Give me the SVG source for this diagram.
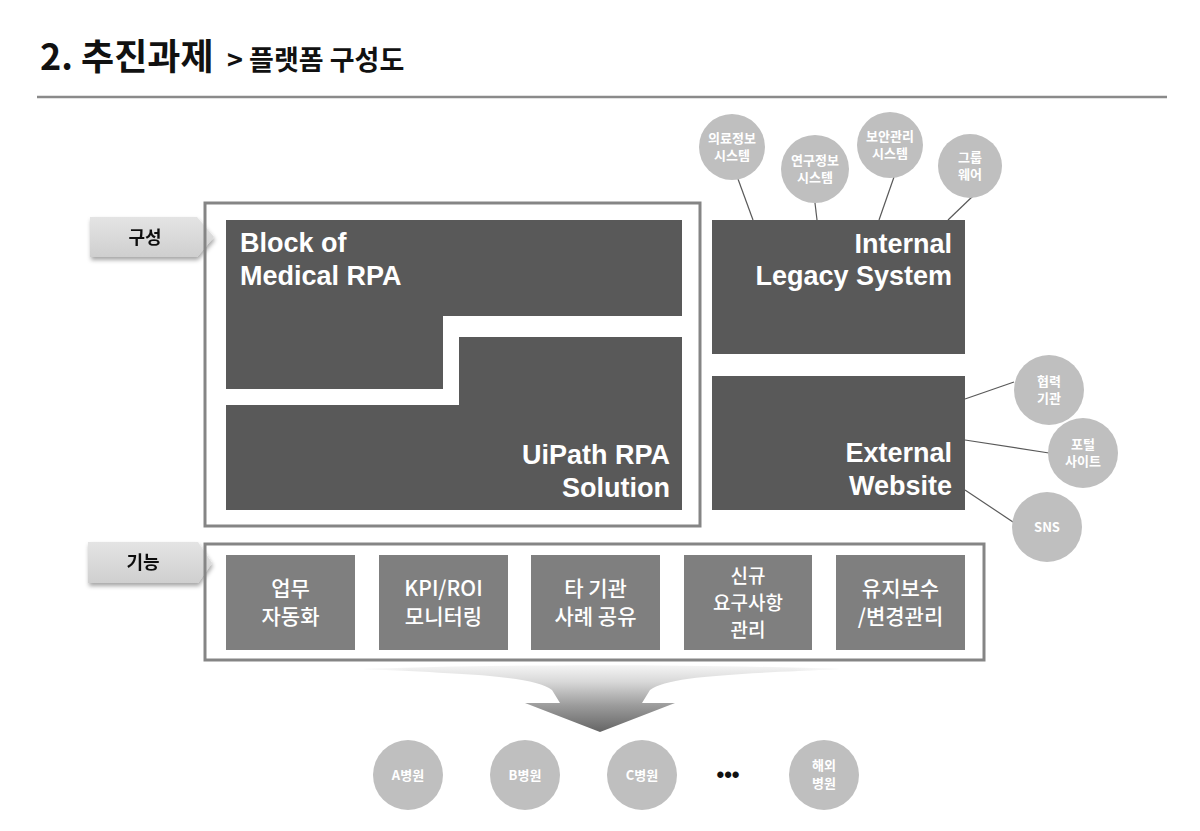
<svg xmlns="http://www.w3.org/2000/svg" width="1200" height="831" viewBox="0 0 1200 831">
<defs>
<linearGradient id="tagGrad" x1="0" y1="0" x2="0" y2="1">
<stop offset="0" stop-color="#e4e4e4"/>
<stop offset="1" stop-color="#cfcfcf"/>
</linearGradient>
<linearGradient id="funnelGrad" x1="0" y1="0" x2="0" y2="1">
<stop offset="0" stop-color="#f5f5f5"/>
<stop offset="0.25" stop-color="#d8d8d8"/>
<stop offset="0.6" stop-color="#9c9c9c"/>
<stop offset="1" stop-color="#656565"/>
</linearGradient>
<linearGradient id="funnelFade" x1="0" y1="0" x2="1" y2="0">
<stop offset="0" stop-color="#fff" stop-opacity="0.9"/>
<stop offset="0.1" stop-color="#fff" stop-opacity="0"/>
<stop offset="0.9" stop-color="#fff" stop-opacity="0"/>
<stop offset="1" stop-color="#fff" stop-opacity="0.9"/>
</linearGradient>
<filter id="shadow" x="-10%" y="-20%" width="130%" height="160%">
<feDropShadow dx="1" dy="3" stdDeviation="2" flood-color="#000" flood-opacity="0.35"/>
</filter>
</defs>
<style>
.title{font-family:"Noto Sans CJK KR","Noto Sans",sans-serif;font-weight:bold;fill:#111}
.frame{fill:none;stroke:#858585;stroke-width:3}
.dark{fill:#595959}
.func{fill:#7f7f7f}
.bub{fill:#bfbfbf}
.big{font-family:"Liberation Sans","Noto Sans CJK KR",sans-serif;font-weight:bold;font-size:27px;fill:#fff}
.ft{font-family:"Noto Sans CJK KR",sans-serif;font-weight:500;font-size:21px;fill:#fff;text-anchor:middle}
.ft3{font-family:"Noto Sans CJK KR",sans-serif;font-weight:500;font-size:19px;fill:#fff;text-anchor:middle}
.bt{font-family:"Noto Sans CJK KR",sans-serif;font-weight:bold;font-size:13px;fill:#fff;text-anchor:middle}
.ht{font-family:"Noto Sans CJK KR",sans-serif;font-weight:bold;font-size:13px;fill:#fff;text-anchor:middle}
.tag{fill:url(#tagGrad)}
.tt{font-family:"Noto Sans CJK KR",sans-serif;font-weight:bold;font-size:18px;fill:#111;text-anchor:middle}
.conn{stroke:#595959;stroke-width:1.2;fill:none}
</style>

<g id="title">
<text class="title" x="40" y="70" font-size="36">2. 추진과제</text>
<text class="title" x="227" y="70" font-size="27">&gt; 플랫폼 구성도</text>
<line x1="37" y1="97" x2="1167" y2="97" stroke="#8a8a8a" stroke-width="2.5"/>
</g>

<g id="connectors">
<line class="conn" x1="738" y1="179" x2="753" y2="220"/>
<line class="conn" x1="815" y1="203" x2="817" y2="220"/>
<line class="conn" x1="894" y1="177" x2="879" y2="220"/>
<line class="conn" x1="974" y1="195" x2="948" y2="220"/>
<line class="conn" x1="965" y1="399" x2="1014" y2="382"/>
<line class="conn" x1="965" y1="440" x2="1049" y2="453"/>
<line class="conn" x1="965" y1="490" x2="1013" y2="522"/>
</g>

<g id="tag-composition" filter="url(#shadow)">
<polygon class="tag" points="90,217 197,217 214,237 197,257 90,257"/>
<text class="tt" x="145" y="244">구성</text>
</g>
<g id="tag-function" filter="url(#shadow)">
<polygon class="tag" points="88,542 198,542 212,563 198,583 88,583"/>
<text class="tt" x="143" y="569">기능</text>
</g>

<g id="composition-frame">
<rect class="frame" x="205" y="203" width="495" height="323"/>
</g>

<g id="block-medical-rpa">
<path class="dark" d="M226,220 H682 V316 H443 V389 H226 Z"/>
<text class="big" x="240" y="252">Block of</text>
<text class="big" x="240" y="285">Medical RPA</text>
</g>

<g id="uipath-rpa">
<path class="dark" d="M459,337 H682 V510 H226 V405 H459 Z"/>
<text class="big" x="670" y="464" text-anchor="end">UiPath RPA</text>
<text class="big" x="670" y="497" text-anchor="end">Solution</text>
</g>

<g id="internal-legacy">
<rect class="dark" x="712" y="220" width="253" height="134"/>
<text class="big" x="952" y="253" text-anchor="end">Internal</text>
<text class="big" x="952" y="285" text-anchor="end">Legacy System</text>
</g>

<g id="external-website">
<rect class="dark" x="712" y="376" width="253" height="134"/>
<text class="big" x="952" y="462" text-anchor="end">External</text>
<text class="big" x="952" y="495" text-anchor="end">Website</text>
</g>

<g id="bubble-medical-info">
<circle class="bub" cx="732" cy="147" r="33"/>
<text class="bt" x="732" y="143">의료정보</text>
<text class="bt" x="732" y="160">시스템</text>
</g>
<g id="bubble-research-info">
<circle class="bub" cx="815" cy="169" r="34"/>
<text class="bt" x="815" y="165">연구정보</text>
<text class="bt" x="815" y="182">시스템</text>
</g>
<g id="bubble-security">
<circle class="bub" cx="890" cy="145" r="33"/>
<text class="bt" x="890" y="141">보안관리</text>
<text class="bt" x="890" y="158">시스템</text>
</g>
<g id="bubble-groupware">
<circle class="bub" cx="970" cy="166" r="32"/>
<text class="bt" x="970" y="162">그룹</text>
<text class="bt" x="970" y="179">웨어</text>
</g>
<g id="bubble-partner">
<circle class="bub" cx="1049" cy="390" r="35"/>
<text class="bt" x="1049" y="386">협력</text>
<text class="bt" x="1049" y="403">기관</text>
</g>
<g id="bubble-portal">
<circle class="bub" cx="1083" cy="453" r="35"/>
<text class="bt" x="1083" y="449">포털</text>
<text class="bt" x="1083" y="466">사이트</text>
</g>
<g id="bubble-sns">
<circle class="bub" cx="1047" cy="527" r="35"/>
<text class="bt" x="1047" y="532">SNS</text>
</g>

<g id="function-frame">
<rect class="frame" x="205" y="544" width="779" height="116"/>
</g>

<g id="func-automation">
<rect class="func" x="226" y="555" width="129" height="95"/>
<text class="ft" x="290.5" y="596">업무</text>
<text class="ft" x="290.5" y="624">자동화</text>
</g>
<g id="func-kpi">
<rect class="func" x="379" y="555" width="129" height="95"/>
<text class="ft" x="443.5" y="596">KPI/ROI</text>
<text class="ft" x="443.5" y="624">모니터링</text>
</g>
<g id="func-share">
<rect class="func" x="531" y="555" width="129" height="95"/>
<text class="ft" x="595.5" y="596">타 기관</text>
<text class="ft" x="595.5" y="624">사례 공유</text>
</g>
<g id="func-requirements">
<rect class="func" x="684" y="555" width="128" height="95"/>
<text class="ft3" x="748" y="583">신규</text>
<text class="ft3" x="748" y="610">요구사항</text>
<text class="ft3" x="748" y="637">관리</text>
</g>
<g id="func-maintenance">
<rect class="func" x="836" y="555" width="129" height="95"/>
<text class="ft" x="900.5" y="596">유지보수</text>
<text class="ft" x="900.5" y="624">/변경관리</text>
</g>

<g id="funnel-arrow">
<path fill="url(#funnelGrad)" d="M363,669 C470,674 535,676 552,690 L560,703 L525,703 L600,732 L675,703 L642,703 L650,690 C668,676 735,674 840,669 C700,664 500,664 363,669 Z"/>
<path fill="url(#funnelFade)" d="M363,669 C470,674 535,676 552,690 L560,703 L525,703 L600,732 L675,703 L642,703 L650,690 C668,676 735,674 840,669 C700,664 500,664 363,669 Z"/>
</g>

<g id="hospital-a">
<circle class="bub" cx="408" cy="775" r="35"/>
<text class="ht" x="408" y="780">A병원</text>
</g>
<g id="hospital-b">
<circle class="bub" cx="525" cy="775" r="35"/>
<text class="ht" x="525" y="780">B병원</text>
</g>
<g id="hospital-c">
<circle class="bub" cx="642" cy="775" r="35"/>
<text class="ht" x="642" y="780">C병원</text>
</g>
<g id="ellipsis">
<text x="728" y="782" font-family="Liberation Sans,sans-serif" font-weight="bold" font-size="22" text-anchor="middle" fill="#111">•••</text>
</g>
<g id="hospital-overseas">
<circle class="bub" cx="824" cy="775" r="35"/>
<text class="ht" x="824" y="770">해외</text>
<text class="ht" x="824" y="788">병원</text>
</g>
</svg>
